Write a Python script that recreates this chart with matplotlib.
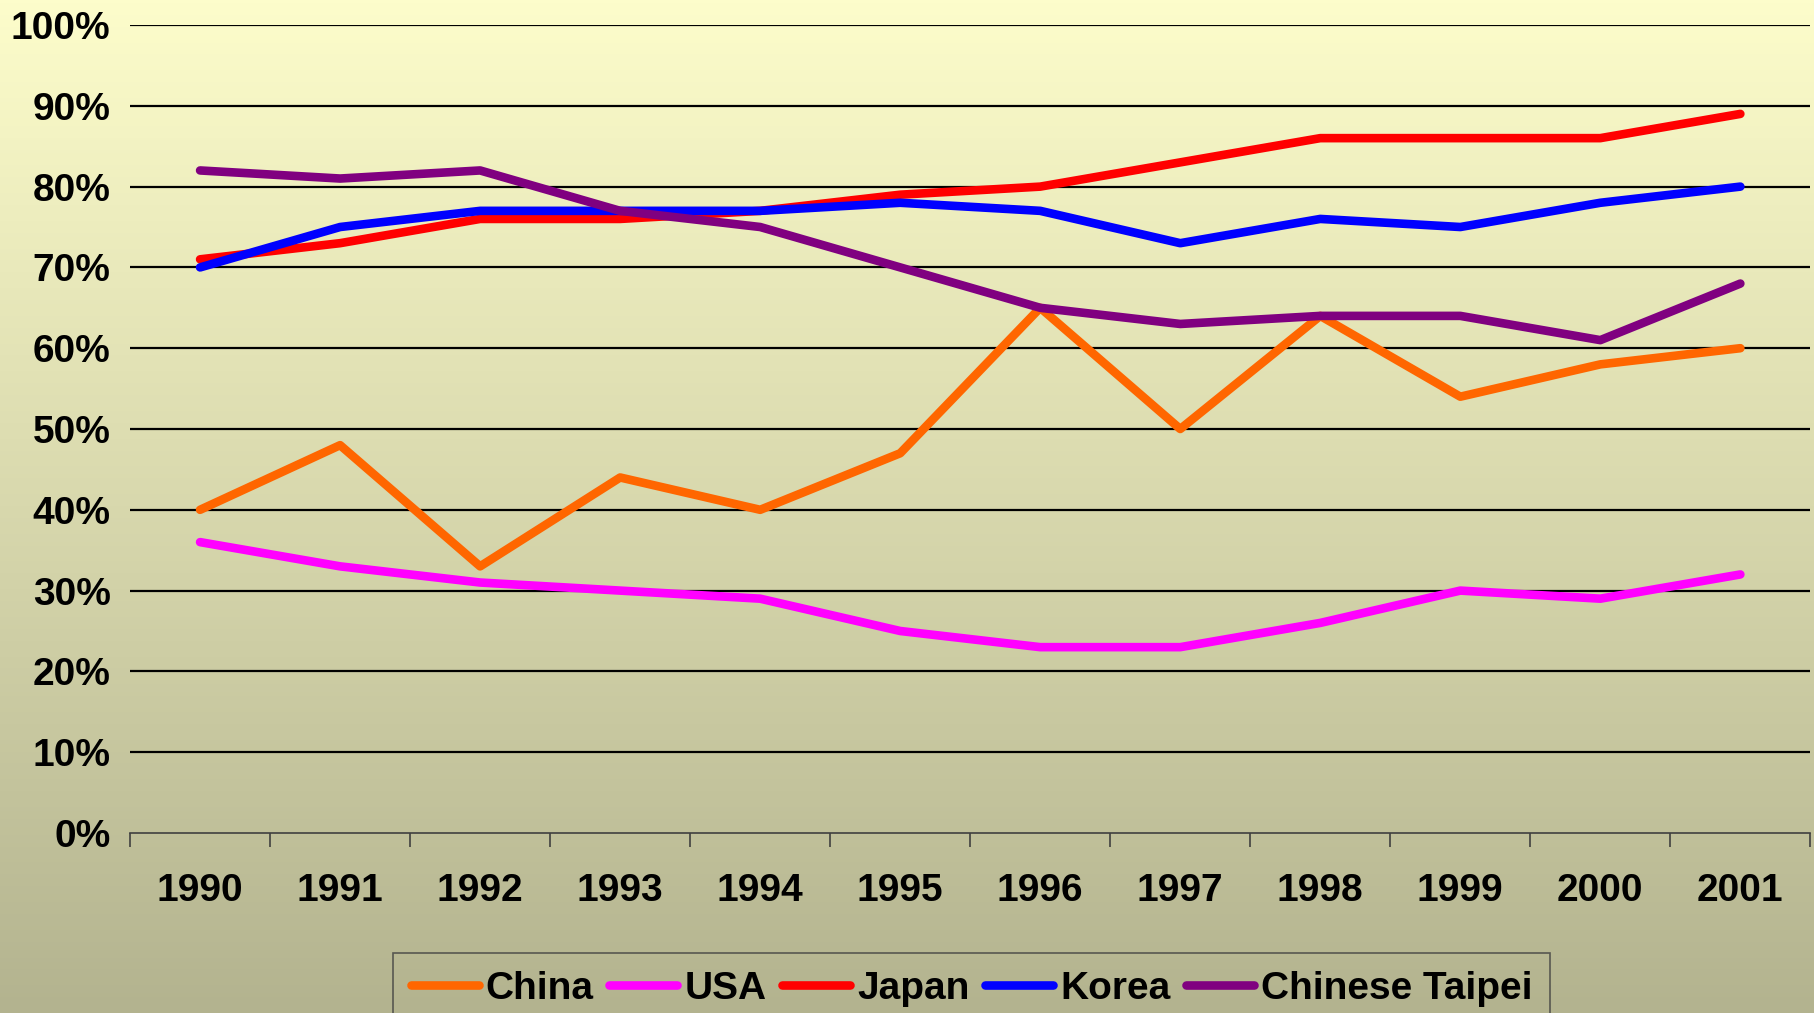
import numpy as np
import matplotlib
matplotlib.use("Agg")
import matplotlib.pyplot as plt
from matplotlib.colors import LinearSegmentedColormap

years = ["1990", "1991", "1992", "1993", "1994", "1995",
         "1996", "1997", "1998", "1999", "2000", "2001"]
china = [40, 48, 33, 44, 40, 47, 65, 50, 64, 54, 58, 60]
usa = [36, 33, 31, 30, 29, 25, 23, 23, 26, 30, 29, 32]
japan = [71, 73, 76, 76, 77, 79, 80, 83, 86, 86, 86, 89]
korea = [70, 75, 77, 77, 77, 78, 77, 73, 76, 75, 78, 80]
taipei = [82, 81, 82, 77, 75, 70, 65, 63, 64, 64, 61, 68]

series = [("China", china, "#FF6600"),
          ("USA", usa, "#FF00FF"),
          ("Japan", japan, "#FF0000"),
          ("Korea", korea, "#0000FF"),
          ("Chinese Taipei", taipei, "#800080")]

plt.rcParams["font.family"] = ["Liberation Sans", "DejaVu Sans"]
plt.rcParams["font.weight"] = "bold"

fig = plt.figure(figsize=(18.14, 10.13), dpi=100)

# gradient background over the whole figure
bg = fig.add_axes([0, 0, 1, 1], zorder=-10)
cmap = LinearSegmentedColormap.from_list("bg", ["#B3B38F", "#FDFDCB"])
grad = np.linspace(0, 1, 256).reshape(-1, 1)
bg.imshow(grad, aspect="auto", cmap=cmap, origin="lower", extent=[0, 1, 0, 1])
bg.axis("off")

ax = fig.add_axes([0.0717, 0.1777, 0.9263, 0.7976])
ax.patch.set_alpha(0)

x = np.arange(len(years))
for name, vals, col in series:
    ax.plot(x, vals, color=col, lw=6.2, solid_capstyle="round",
            solid_joinstyle="round", label=name)

ax.set_xlim(-0.5, len(years) - 0.5)
ax.set_ylim(0, 100)
ax.set_yticks(np.arange(0, 101, 10))
ax.set_yticklabels([f"{v}%" for v in range(0, 101, 10)])
ax.tick_params(axis="y", length=0, pad=14, labelsize=28)

ax.set_xticks(np.arange(-0.5, len(years), 1))
ax.set_xticklabels([])
ax.set_xticks(x, minor=True)
ax.set_xticklabels(years, minor=True)
ax.tick_params(axis="x", which="major", length=10, width=1.2, color="#404040", direction="out")
ax.tick_params(axis="x", which="minor", length=0, pad=29, labelsize=28)

ax.yaxis.grid(True, color="black", lw=1.6)
ax.set_axisbelow(True)
ax.yaxis.get_gridlines()[0].set_visible(False)

for s in ["top", "right", "left"]:
    ax.spines[s].set_visible(False)
ax.spines["bottom"].set_color("#404040")
ax.spines["bottom"].set_linewidth(1.2)

leg = fig.legend(loc="upper left", bbox_to_anchor=(393 / 1814, 1 - 953 / 1013),
                 ncol=5, fontsize=28, frameon=True, fancybox=False,
                 handlelength=1.75, handletextpad=0.18, columnspacing=0.4,
                 borderpad=0.45, borderaxespad=0)
leg.get_frame().set_facecolor("none")
leg.get_frame().set_edgecolor("#404040")
leg.get_frame().set_linewidth(1.2)
for line in leg.get_lines():
    line.set_linewidth(6.2)

fig.savefig("out.png", dpi=100)
